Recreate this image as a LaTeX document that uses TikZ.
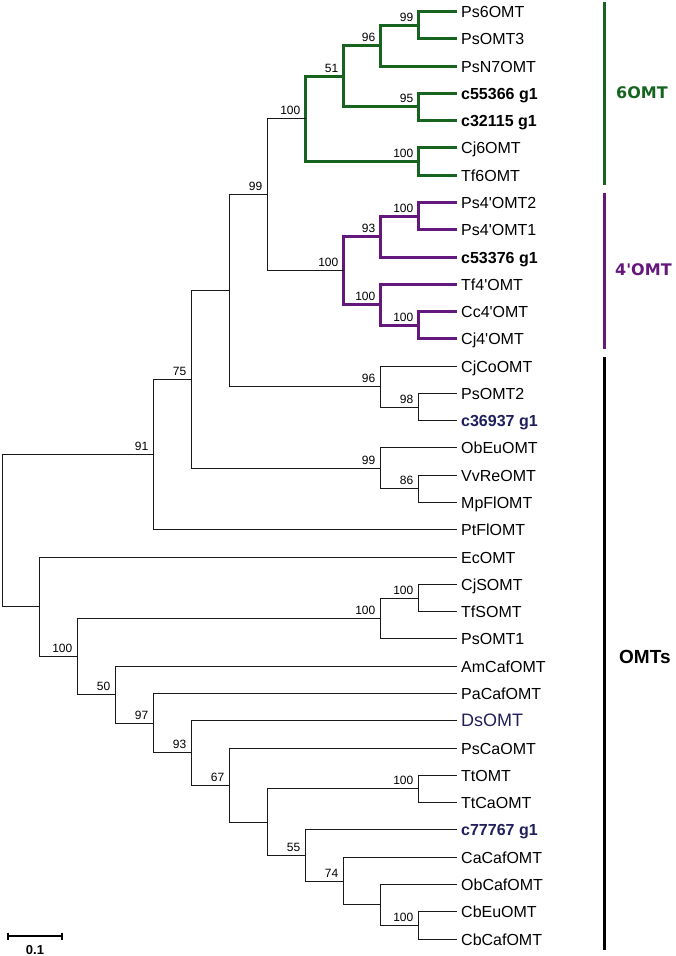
\documentclass[tikz,border=0pt]{standalone}
\usepackage{fontspec}
\setmainfont{Liberation Sans}
\newfontfamily\vfont{DejaVu Sans}
\definecolor{cgreen}{RGB}{22,100,32}
\definecolor{cpurple}{RGB}{100,24,124}
\definecolor{cnavy}{RGB}{32,30,92}
\newcommand{\ry}[1]{-(floor(11.5+27.28*(#1))+0.5)}
\newcommand{\lx}[1]{(floor(2+37.9*(#1))+0.5)}
\begin{document}
\begin{tikzpicture}[x=1pt,y=1pt,
  br/.style={line width=1.4pt,black!90},
  grb/.style={line width=2.2pt,cgreen},
  pub/.style={line width=2.2pt,cpurple},
  leaf/.style={anchor=west,inner xsep=4.5pt,inner ysep=0pt,text height=11.5pt,text depth=0pt,font=\fontsize{16}{18}\selectfont},
  sup/.style={anchor=base east,inner sep=0pt,font=\fontsize{12}{14}\selectfont},
  bar/.style={line width=3pt},
  grp/.style={anchor=west,inner sep=0pt,font=\vfont\bfseries\fontsize{16}{18}\selectfont}
]
\useasboundingbox (0,0) rectangle (675,-956);
% leaves
\foreach \i/\t in {0/Ps6OMT,1/PsOMT3,2/PsN7OMT,5/Cj6OMT,6/Tf6OMT,7/Ps4\textquotesingle OMT2,8/Ps4\textquotesingle OMT1,10/Tf4\textquotesingle OMT,11/Cc4\textquotesingle OMT,12/Cj4\textquotesingle OMT,13/CjCoOMT,14/PsOMT2,16/ObEuOMT,17/VvReOMT,18/MpFlOMT,19/PtFlOMT,20/EcOMT,21/CjSOMT,22/TfSOMT,23/PsOMT1,24/AmCafOMT,25/PaCafOMT,27/PsCaOMT,28/TtOMT,29/TtCaOMT,31/CaCafOMT,32/ObCafOMT,33/CbEuOMT,34/CbCafOMT}
  \node[leaf] (l\i) at ({\lx{12}},{\ry{\i}}) {\t};
\node[leaf,font=\bfseries\fontsize{16}{18}\selectfont] (l3) at ({\lx{12}},{\ry{3}}) {c55366 g1};
\node[leaf,font=\bfseries\fontsize{16}{18}\selectfont] (l4) at ({\lx{12}},{\ry{4}}) {c32115 g1};
\node[leaf,font=\bfseries\fontsize{16}{18}\selectfont] (l9) at ({\lx{12}},{\ry{9}}) {c53376 g1};
\node[leaf,font=\bfseries\fontsize{16}{18}\selectfont,text=cnavy] (l15) at ({\lx{12}},{\ry{15}}) {c36937 g1};
\node[leaf,font=\fontsize{18}{20}\selectfont,text=cnavy,text height=12.9pt] (l26) at ({\lx{12}},{\ry{26}}) {DsOMT};
\node[leaf,font=\bfseries\fontsize{16}{18}\selectfont,text=cnavy] (l30) at ({\lx{12}},{\ry{30}}) {c77767 g1};
% internal nodes
\coordinate (A) at ({\lx{11}},{\ry{0.5}});
\coordinate (B) at ({\lx{10}},{\ry{1.25}});
\coordinate (C) at ({\lx{11}},{\ry{3.5}});
\coordinate (D) at ({\lx{9}},{\ry{2.375}});
\coordinate (E) at ({\lx{11}},{\ry{5.5}});
\coordinate (F) at ({\lx{8}},{\ry{3.9375}});
\coordinate (G) at ({\lx{11}},{\ry{7.5}});
\coordinate (H) at ({\lx{10}},{\ry{8.25}});
\coordinate (I) at ({\lx{11}},{\ry{11.5}});
\coordinate (J) at ({\lx{10}},{\ry{10.75}});
\coordinate (K) at ({\lx{9}},{\ry{9.5}});
\coordinate (L) at ({\lx{7}},{\ry{6.71875}});
\coordinate (M) at ({\lx{11}},{\ry{14.5}});
\coordinate (N) at ({\lx{10}},{\ry{13.75}});
\coordinate (O) at ({\lx{6}},{\ry{10.234375}});
\coordinate (P) at ({\lx{11}},{\ry{17.5}});
\coordinate (Q) at ({\lx{10}},{\ry{16.75}});
\coordinate (R) at ({\lx{5}},{\ry{13.4921875}});
\coordinate (S) at ({\lx{4}},{\ry{16.24609375}});
\coordinate (T) at ({\lx{11}},{\ry{21.5}});
\coordinate (U) at ({\lx{10}},{\ry{22.25}});
\coordinate (V) at ({\lx{11}},{\ry{28.5}});
\coordinate (W) at ({\lx{11}},{\ry{33.5}});
\coordinate (X) at ({\lx{10}},{\ry{32.75}});
\coordinate (Y) at ({\lx{9}},{\ry{31.875}});
\coordinate (Z) at ({\lx{8}},{\ry{30.9375}});
\coordinate (AA) at ({\lx{7}},{\ry{29.71875}});
\coordinate (AB) at ({\lx{6}},{\ry{28.359375}});
\coordinate (AC) at ({\lx{5}},{\ry{27.1796875}});
\coordinate (AD) at ({\lx{4}},{\ry{26.08984375}});
\coordinate (AE) at ({\lx{3}},{\ry{25.044921875}});
\coordinate (AF) at ({\lx{2}},{\ry{23.6474609375}});
\coordinate (AG) at ({\lx{1}},{\ry{21.82373046875}});
\coordinate (RT) at ({\lx{0}},{\ry{19.035}});
% green clade
\draw[grb] (A) |- (l0.west); \draw[grb] (A) |- (l1.west);
\draw[grb] (B) |- (A); \draw[grb] (B) |- (l2.west);
\draw[grb] (C) |- (l3.west); \draw[grb] (C) |- (l4.west);
\draw[grb] (D) |- (B); \draw[grb] (D) |- (C);
\draw[grb] (E) |- (l5.west); \draw[grb] (E) |- (l6.west);
\draw[grb] (F) |- (D); \draw[grb] (F) |- (E);
% purple clade
\draw[pub] (G) |- (l7.west); \draw[pub] (G) |- (l8.west);
\draw[pub] (H) |- (G); \draw[pub] (H) |- (l9.west);
\draw[pub] (I) |- (l11.west); \draw[pub] (I) |- (l12.west);
\draw[pub] (J) |- (l10.west); \draw[pub] (J) |- (I);
\draw[pub] (K) |- (H); \draw[pub] (K) |- (J);
% black tree
\draw[br] (L) |- (F); \draw[br] (L) |- (K);
\draw[br] (M) |- (l14.west); \draw[br] (M) |- (l15.west);
\draw[br] (N) |- (l13.west); \draw[br] (N) |- (M);
\draw[br] (O) |- (L); \draw[br] (O) |- (N);
\draw[br] (P) |- (l17.west); \draw[br] (P) |- (l18.west);
\draw[br] (Q) |- (l16.west); \draw[br] (Q) |- (P);
\draw[br] (R) |- (O); \draw[br] (R) |- (Q);
\draw[br] (S) |- (R); \draw[br] (S) |- (l19.west);
\draw[br] (T) |- (l21.west); \draw[br] (T) |- (l22.west);
\draw[br] (U) |- (T); \draw[br] (U) |- (l23.west);
\draw[br] (V) |- (l28.west); \draw[br] (V) |- (l29.west);
\draw[br] (W) |- (l33.west); \draw[br] (W) |- (l34.west);
\draw[br] (X) |- (l32.west); \draw[br] (X) |- (W);
\draw[br] (Y) |- (l31.west); \draw[br] (Y) |- (X);
\draw[br] (Z) |- (l30.west); \draw[br] (Z) |- (Y);
\draw[br] (AA) |- (V); \draw[br] (AA) |- (Z);
\draw[br] (AB) |- (l27.west); \draw[br] (AB) |- (AA);
\draw[br] (AC) |- (l26.west); \draw[br] (AC) |- (AB);
\draw[br] (AD) |- (l25.west); \draw[br] (AD) |- (AC);
\draw[br] (AE) |- (l24.west); \draw[br] (AE) |- (AD);
\draw[br] (AF) |- (U); \draw[br] (AF) |- (AE);
\draw[br] (AG) |- (l20.west); \draw[br] (AG) |- (AF);
\draw[br] (RT) |- (S); \draw[br] (RT) |- (AG);
% support values
\foreach \n/\v in {A/99,B/96,C/95,D/51,E/100,F/100,G/100,H/93,I/100,J/100,K/100,L/99,M/98,N/96,P/86,Q/99,R/75,S/91,T/100,U/100,V/100,W/100,Y/74,Z/55,AB/67,AC/93,AD/97,AE/50,AF/100}
  \node[sup] (s\n) at ([xshift=-5pt,yshift=4.5pt]\n) {\v};
% group bars
\coordinate (g1) at (604,-2); \coordinate (g2) at (604,-185);
\coordinate (p1) at (604,-193); \coordinate (p2) at (604,-349);
\coordinate (k1) at (604,-357); \coordinate (k2) at (604,-950);
\draw[bar,cgreen] (g1) -- (g2);
\draw[bar,cpurple] (p1) -- (p2);
\draw[bar,black] (k1) -- (k2);
\node[grp,text=cgreen] (t6) at (616,-93) {6OMT};
\node[grp,text=cpurple] (t4) at (615,-270) {4\textquotesingle OMT};
\node[anchor=west,inner sep=0pt,font=\bfseries\fontsize{19}{21}\selectfont] (tO) at (619,-657) {OMTs};
% scale bar
\coordinate (sb1) at (8,-936); \coordinate (sb2) at (62,-936);
\draw[line width=2pt] (sb1) -- (sb2);
\draw[line width=2pt] ([yshift=3.5pt]sb1) -- ([yshift=-3.5pt]sb1);
\draw[line width=2pt] ([yshift=3.5pt]sb2) -- ([yshift=-3.5pt]sb2);
\node[inner sep=0pt,font=\bfseries\fontsize{13}{15}\selectfont] (sbl) at (35,-950) {0.1};
\end{tikzpicture}
\end{document}
